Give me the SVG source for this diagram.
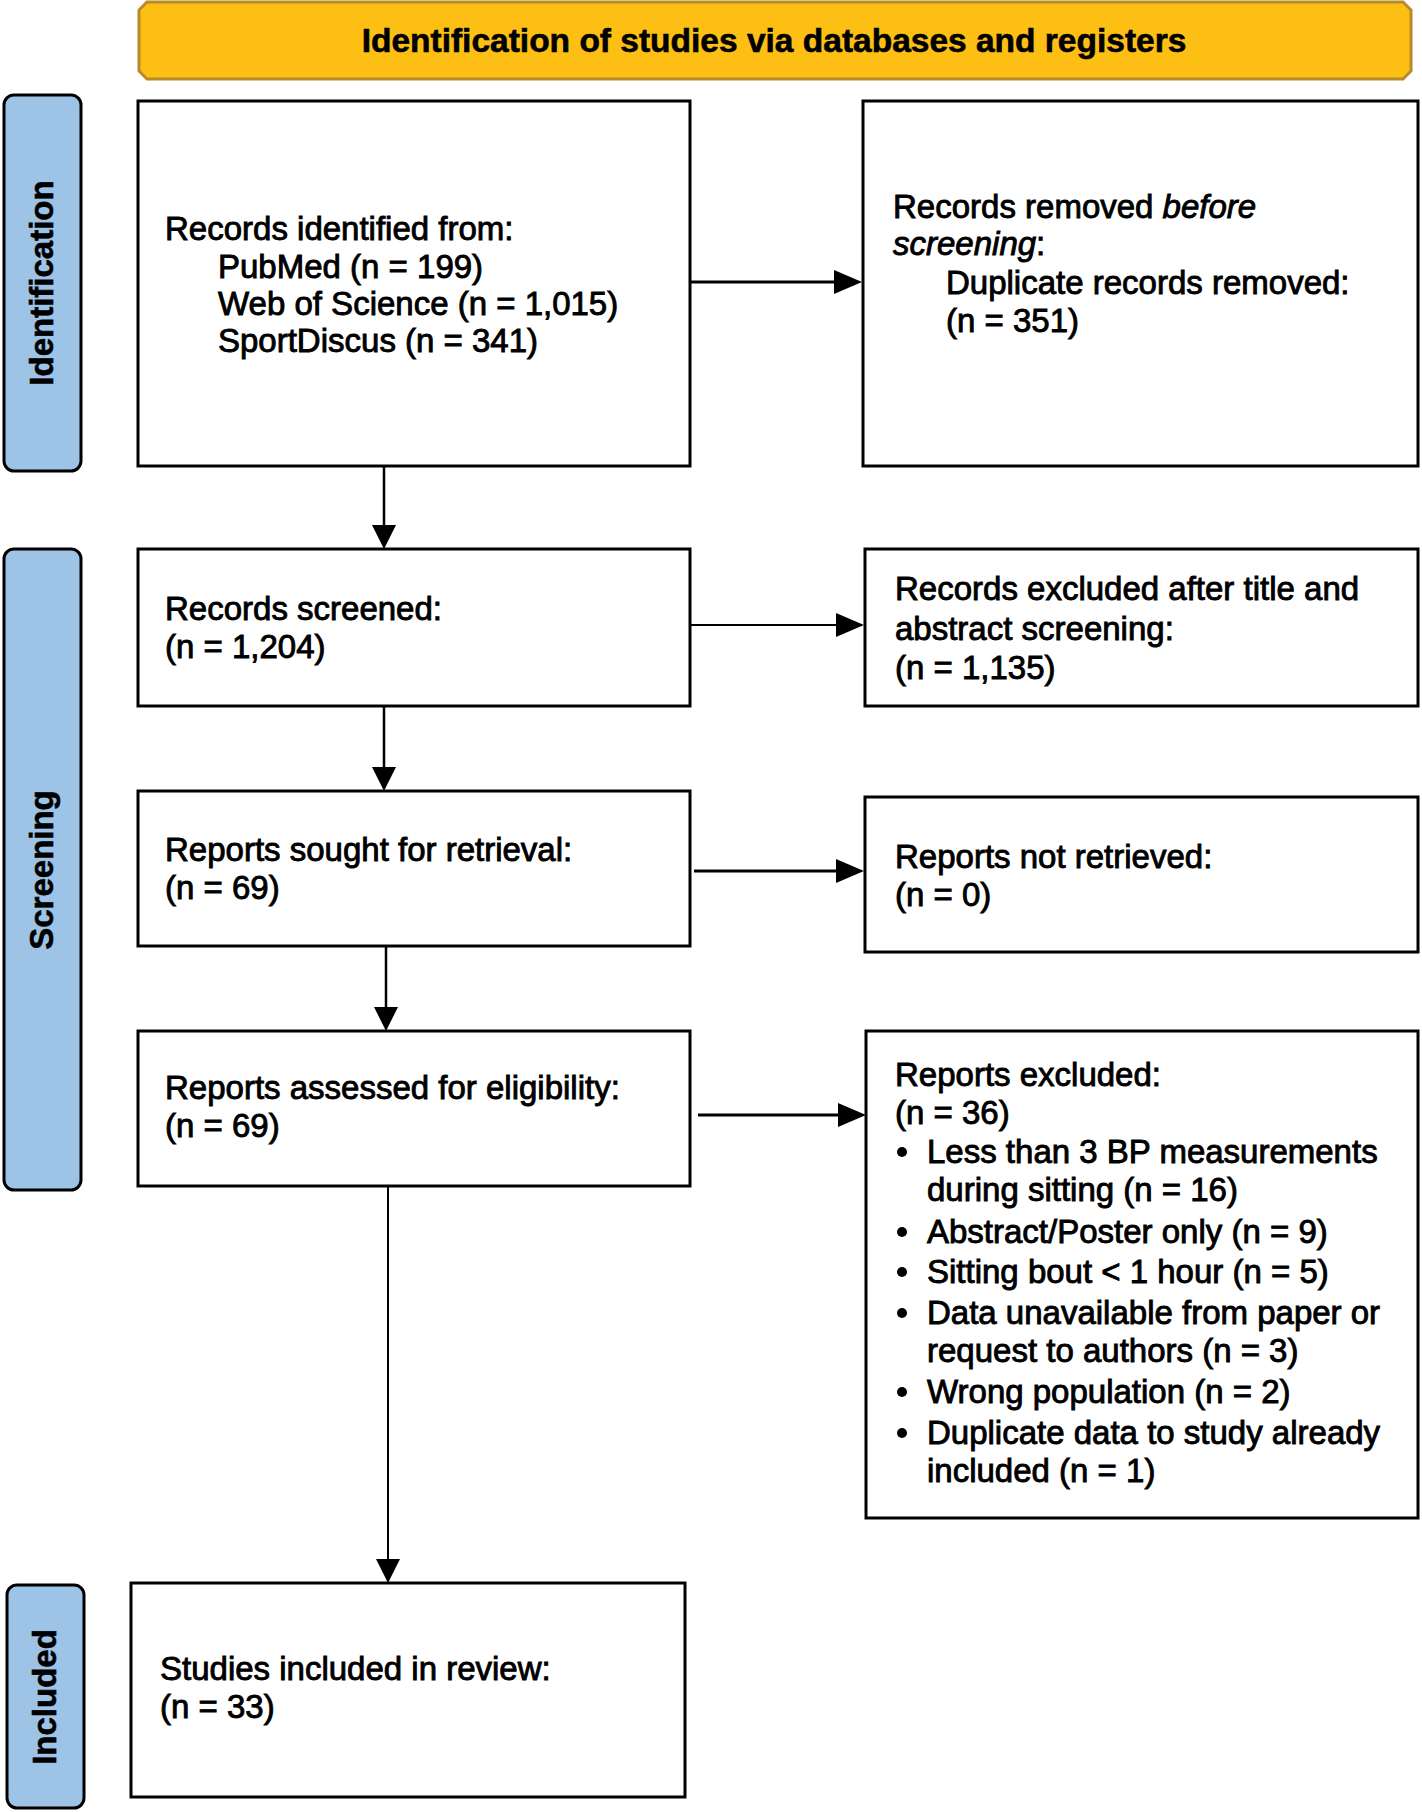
<svg xmlns="http://www.w3.org/2000/svg" width="1422" height="1812" viewBox="0 0 1422 1812">
<defs>
<style>
.box{fill:#ffffff;stroke:#000000;stroke-width:3}
.side{fill:#9dc3e6;stroke:#000000;stroke-width:3}
.hdr{fill:#fdbf14;stroke:#b88a2a;stroke-width:3}
.t{font-family:"Liberation Sans",Arial,sans-serif;font-size:33px;fill:#000000;stroke:#000000;stroke-width:0.9}
.b{font-family:"Liberation Sans",Arial,sans-serif;font-weight:bold;fill:#000000;stroke:#000000;stroke-width:0.6}
.ln{stroke:#000000;fill:none}
.ah{fill:#000000}
</style>
</defs>
<rect width="1422" height="1812" fill="#ffffff"/>

<g id="header">
<path class="hdr" d="M147,2 H1403 L1411,10 V71 L1403,79 H147 L139,71 V10 Z"/>
<text class="b" x="774" y="52" font-size="33.5" text-anchor="middle">Identification of studies via databases and registers</text>
</g>

<g id="side-identification">
<rect class="side" x="4" y="95" width="77" height="376" rx="10"/>
<text class="b" font-size="33" text-anchor="middle" transform="translate(42,283) rotate(-90)" y="11">Identification</text>
</g>
<g id="side-screening">
<rect class="side" x="4" y="549" width="77" height="641" rx="10"/>
<text class="b" font-size="33" text-anchor="middle" transform="translate(42,870) rotate(-90)" y="11">Screening</text>
</g>
<g id="side-included">
<rect class="side" x="7" y="1585" width="77" height="223" rx="10"/>
<text class="b" font-size="33" text-anchor="middle" transform="translate(45,1697) rotate(-90)" y="11">Included</text>
</g>

<g id="records-identified">
<rect class="box" x="138" y="101" width="552" height="365"/>
<text class="t" x="165" y="240">Records identified from:</text>
<text class="t" x="218" y="278">PubMed (n = 199)</text>
<text class="t" x="218" y="315">Web of Science (n = 1,015)</text>
<text class="t" x="218" y="352">SportDiscus (n = 341)</text>
</g>

<g id="records-removed">
<rect class="box" x="863" y="101" width="555" height="365"/>
<text class="t" x="893" y="218">Records removed <tspan font-style="italic">before</tspan></text>
<text class="t" x="893" y="255"><tspan font-style="italic">screening</tspan>:</text>
<text class="t" x="946" y="294">Duplicate records removed:</text>
<text class="t" x="946" y="332">(n = 351)</text>
</g>

<g id="records-screened">
<rect class="box" x="138" y="549" width="552" height="157"/>
<text class="t" x="165" y="620">Records screened:</text>
<text class="t" x="165" y="658">(n = 1,204)</text>
</g>

<g id="records-excluded">
<rect class="box" x="865" y="549" width="553" height="157"/>
<text class="t" x="895" y="600">Records excluded after title and</text>
<text class="t" x="895" y="640">abstract screening:</text>
<text class="t" x="895" y="679">(n = 1,135)</text>
</g>

<g id="reports-sought">
<rect class="box" x="138" y="791" width="552" height="155"/>
<text class="t" x="165" y="861">Reports sought for retrieval:</text>
<text class="t" x="165" y="899">(n = 69)</text>
</g>

<g id="reports-not-retrieved">
<rect class="box" x="865" y="797" width="553" height="155"/>
<text class="t" x="895" y="868">Reports not retrieved:</text>
<text class="t" x="895" y="906">(n = 0)</text>
</g>

<g id="reports-assessed">
<rect class="box" x="138" y="1031" width="552" height="155"/>
<text class="t" x="165" y="1099">Reports assessed for eligibility:</text>
<text class="t" x="165" y="1137">(n = 69)</text>
</g>

<g id="reports-excluded">
<rect class="box" x="866" y="1031" width="552" height="487"/>
<text class="t" x="895" y="1086">Reports excluded:</text>
<text class="t" x="895" y="1124">(n = 36)</text>
<circle class="ah" cx="902" cy="1152" r="5"/>
<text class="t" x="927" y="1163">Less than 3 BP measurements</text>
<text class="t" x="927" y="1201">during sitting (n = 16)</text>
<circle class="ah" cx="902" cy="1232" r="5"/>
<text class="t" x="927" y="1243">Abstract/Poster only (n = 9)</text>
<circle class="ah" cx="902" cy="1272" r="5"/>
<text class="t" x="927" y="1283">Sitting bout &lt; 1 hour (n = 5)</text>
<circle class="ah" cx="902" cy="1313" r="5"/>
<text class="t" x="927" y="1324">Data unavailable from paper or</text>
<text class="t" x="927" y="1362">request to authors (n = 3)</text>
<circle class="ah" cx="902" cy="1392" r="5"/>
<text class="t" x="927" y="1403">Wrong population (n = 2)</text>
<circle class="ah" cx="902" cy="1433" r="5"/>
<text class="t" x="927" y="1444">Duplicate data to study already</text>
<text class="t" x="927" y="1482">included (n = 1)</text>
</g>

<g id="studies-included">
<rect class="box" x="131" y="1583" width="554" height="214"/>
<text class="t" x="160" y="1680">Studies included in review:</text>
<text class="t" x="160" y="1718">(n = 33)</text>
</g>

<g id="connectors">
<line class="ln" x1="690" y1="282" x2="836" y2="282" stroke-width="3"/>
<polygon class="ah" points="834,270 862,282 834,294"/>
<line class="ln" x1="690" y1="625" x2="838" y2="625" stroke-width="2"/>
<polygon class="ah" points="836,613 864,625 836,637"/>
<line class="ln" x1="694" y1="871" x2="838" y2="871" stroke-width="3"/>
<polygon class="ah" points="836,859 864,871 836,883"/>
<line class="ln" x1="698" y1="1115" x2="840" y2="1115" stroke-width="3"/>
<polygon class="ah" points="838,1103 866,1115 838,1127"/>
<line class="ln" x1="384" y1="466" x2="384" y2="527" stroke-width="2.5"/>
<polygon class="ah" points="372,525 384,549 396,525"/>
<line class="ln" x1="384" y1="706" x2="384" y2="769" stroke-width="2.5"/>
<polygon class="ah" points="372,767 384,791 396,767"/>
<line class="ln" x1="386" y1="946" x2="386" y2="1009" stroke-width="2.5"/>
<polygon class="ah" points="374,1007 386,1031 398,1007"/>
<line class="ln" x1="388" y1="1186" x2="388" y2="1561" stroke-width="2"/>
<polygon class="ah" points="376,1559 388,1583 400,1559"/>
</g>
</svg>
